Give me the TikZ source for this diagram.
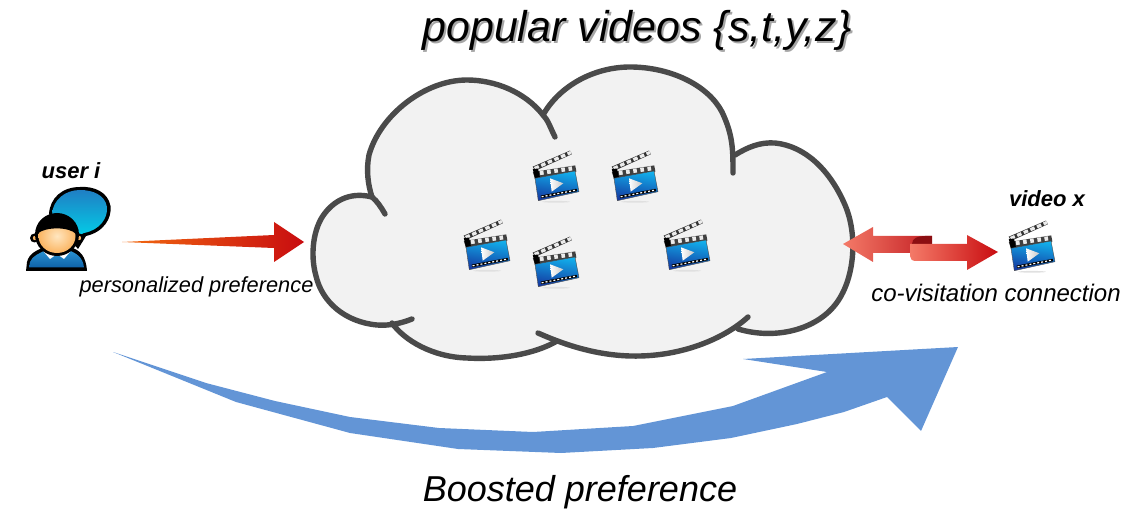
\documentclass[tikz,border=0pt]{standalone}
\usepackage{fontspec}
\setmainfont{Liberation Sans}
\definecolor{cloudfill}{HTML}{F2F2F2}
\definecolor{cloudline}{HTML}{4A4A4A}
\definecolor{boostblue}{HTML}{6395D6}
\definecolor{clapA}{HTML}{12B0EC}
\definecolor{clapB}{HTML}{0A78CC}
\definecolor{clapC}{HTML}{1438A0}
\definecolor{arrowA}{HTML}{F26A10}
\definecolor{arrowB}{HTML}{C80C10}
\definecolor{dblA}{HTML}{F47A68}
\definecolor{dblB}{HTML}{C42024}
\definecolor{foldred}{HTML}{8C0E12}
\definecolor{bubA}{HTML}{1F7FC4}
\definecolor{bubB}{HTML}{00D4EA}
\definecolor{bodyA}{HTML}{2A93D2}
\definecolor{bodyB}{HTML}{0F62A8}
\definecolor{skinA}{HTML}{FFE6C0}
\definecolor{skinB}{HTML}{FBB562}
\tikzset{
  cloudarc/.style={draw=cloudline,line width=5.4pt,line cap=round,line join=round},
  clap/.pic={
    \fill[black!12] (24,51.8) ellipse (14 and 0.9);
    \fill[black!80] (0.7,16.7) -- (38,0.6) -- (39.9,4.2) -- (3.2,20.8) -- cycle;
    \draw[black!8,line width=3.2pt,dash pattern=on 4.6pt off 2.6pt] (2.6,18.4) -- (39,2.4);
    \fill[black!75] (0.8,22) -- (43.2,15.4) -- (44.4,21.6) -- (3,28.8) -- cycle;
    \draw[black!8,line width=4.2pt,dash pattern=on 3.6pt off 3.6pt] (8,23) -- (43.4,17.9);
    \fill[black] (0.8,19) -- (6,18.6) -- (8,27.6) -- (3,28.8) -- cycle;
    \path[shade,top color=clapA,middle color=clapB,bottom color=clapC,shading angle=-8]
      (3,28.3) -- (43,21) -- (47,41.7) -- (6.3,50.7) -- cycle;
    \draw[black!70,line width=0.4pt] (3,28.3) -- (43,21) -- (47,41.7) -- (6.3,50.7) -- cycle;
    \fill[black] (8.6,45.6) -- (44.6,38.8) -- (45.2,41.2) -- (9.2,48.2) -- cycle;
    \draw[white,line width=1.2pt,dash pattern=on 2pt off 2pt] (9.6,46.8) -- (44.6,40);
    \shade[left color=white,right color=black!22] (18,28.3) -- (31.3,33.3) -- (19.7,41.7) -- cycle;
  }
}
\begin{document}
\begin{tikzpicture}[x=1pt,y=-1pt]
\useasboundingbox (0,0) rectangle (1135,521);

% cloud body, following the same arcs as the outline
\fill[cloudfill] (372,197)
  .. controls (352,192) and (336,199) .. (325,213)
  .. controls (313,228) and (310,255) .. (316,276)
  .. controls (322,302) and (345,322) .. (377,325)
  -- (392,323) .. controls (404,340) and (432,357) .. (467,358)
  .. controls (500,360) and (535,354) .. (548,346)
  -- (552,341) .. controls (575,350) and (600,357) .. (640,356)
  .. controls (685,355) and (720,340) .. (738,329)
  .. controls (775,340) and (815,330) .. (835,305)
  .. controls (855,280) and (858,235) .. (845,205)
  .. controls (830,170) and (805,146) .. (775,143)
  .. controls (760,142) and (748,147) .. (735,155)
  .. controls (733,135) and (733,135) .. (722,112)
  .. controls (708,85) and (670,67) .. (630,67)
  .. controls (595,67) and (560,85) .. (543,115)
  .. controls (525,92) and (495,80) .. (467,80)
  .. controls (425,80) and (380,115) .. (369,155)
  .. controls (366,170) and (368,185) .. (372,197) -- cycle;
% cloud outline, one arc per lobe
\draw[cloudarc] (385,214) .. controls (381,207) and (377,201) .. (372,197)
  .. controls (352,192) and (336,199) .. (325,213)
  .. controls (313,228) and (310,255) .. (316,276)
  .. controls (322,302) and (345,322) .. (377,325)
  .. controls (390,326) and (402,323) .. (412,319);
\draw[cloudarc] (392,323) .. controls (404,340) and (432,357) .. (467,358)
  .. controls (500,360) and (535,354) .. (557,341);
\draw[cloudarc] (538,333) .. controls (565,345) and (600,357) .. (640,356)
  .. controls (685,355) and (725,338) .. (748,317);
\draw[cloudarc] (738,329) .. controls (775,340) and (815,330) .. (835,305)
  .. controls (855,280) and (858,235) .. (845,205)
  .. controls (830,170) and (805,146) .. (775,143)
  .. controls (760,142) and (748,147) .. (735,155);
\draw[cloudarc] (733,173) .. controls (733,150) and (733,135) .. (722,112)
  .. controls (708,85) and (670,67) .. (630,67)
  .. controls (595,67) and (560,85) .. (543,115);
\draw[cloudarc] (555,137) .. controls (550,127) and (548,120) .. (543,115)
  .. controls (525,92) and (495,80) .. (467,80)
  .. controls (425,80) and (380,115) .. (369,155)
  .. controls (366,170) and (368,185) .. (372,197);

% clapperboards
\pic at (532,150) {clap};
\pic at (611,150) {clap};
\pic at (463,219) {clap};
\pic at (532,236) {clap};
\pic at (663,219) {clap};
\pic at (1008,220) {clap};

% red arrow
\path[shade,left color=arrowA,right color=arrowB]
 (122,242) -- (274,235) -- (274,222) -- (304,242) -- (274,262) -- (274,248) -- cycle;

% double arrow
\path[shade,left color=dblA,right color=dblB]
 (843,244) -- (873,227) -- (873,236) -- (932,236) -- (932,253) -- (873,253) -- (873,262) -- cycle;
\fill[foldred] (912,244) .. controls (912,238) and (918,236) .. (925,236) -- (932,236) -- (932,244) -- cycle;
\path[shade,left color=dblA,right color=arrowB]
 (910,244) -- (967,244) -- (967,235) -- (998,252) -- (967,270) -- (967,261) -- (916,261)
 .. controls (912,261) and (910,259) .. (910,256) -- cycle;

% boosted preference arrow
\fill[boostblue] (113,352) -- (206,383) -- (275,401) -- (350,417) -- (439,428) -- (533,432)
 -- (633,426) -- (733,406) -- (827,372) -- (743,359) -- (958,347) -- (921,431) -- (887,397)
 -- (844,412) -- (797,424) -- (731,438) -- (653,448) -- (561,453) -- (458,449) -- (350,433)
 -- (236,402) -- cycle;

% user icon
\fill[black] (78,249) -- (86,236) .. controls (104,232) and (112,218) .. (110.5,206)
  .. controls (108,192) and (94,186) .. (80,187) .. controls (62,187) and (50,198) .. (49,214) -- cycle;
\shade[top color=bubA,bottom color=bubB] (84,233) .. controls (100,230) and (108,218) .. (107,207)
  .. controls (105,195) and (93,190) .. (80,190) .. controls (65,190) and (53,200) .. (52,214) -- (70,240) -- cycle;
\fill[black] (26,271) -- (27,262) .. controls (29,253) and (38,250) .. (44,247) -- (70,247)
  .. controls (80,250) and (86,256) .. (87,271) -- cycle;
\shade[top color=bodyA,bottom color=bodyB] (29,267.5) -- (30,262) .. controls (32,256) and (40,253) .. (46,250)
  -- (68,250) .. controls (76,253) and (83,257) .. (84,267.5) -- cycle;
\fill[white] (44,252) -- (50,259) -- (57,254) -- (64,259) -- (70,252) -- (57,250) -- cycle;
\fill[black] (34.5,238) circle (4.5);
\fill[black] (79.5,238) circle (4.5);
\fill[skinB] (35,238) circle (2.2);
\fill[skinB] (79,238) circle (2.2);
\fill[black] (57,234.5) ellipse (22 and 21.5);
\shade[inner color=skinA,outer color=skinB] (57,236) ellipse (18.5 and 17);
\fill[black] (37,234) .. controls (35,220) and (46,215) .. (57,215) .. controls (68,215) and (78,221) .. (76,234)
  .. controls (70,227) and (46,226) .. (37,234) -- cycle;

% texts
\node[font=\fontsize{43}{43}\selectfont\itshape,text=black!35] (titleshadow) at (639,32) {popular videos \{s,t,y,z\}};
\node[font=\fontsize{43}{43}\selectfont\itshape] (title) at (637,30) {popular videos \{s,t,y,z\}};
\node[font=\fontsize{36}{36}\selectfont\itshape] (boost) at (580,492.5) {Boosted preference};
\node[font=\fontsize{22}{22}\selectfont\bfseries\itshape] (useri) at (71,171) {user i};
\node[font=\fontsize{22}{22}\selectfont\bfseries\itshape] (videox) at (1047,199) {video x};
\node[font=\fontsize{21.8}{22}\selectfont\itshape] (pers) at (196.5,287) {personalized preference};
\node[font=\fontsize{24}{24}\selectfont\itshape] (covis) at (996,293) {co-visitation connection};
\end{tikzpicture}
\end{document}
